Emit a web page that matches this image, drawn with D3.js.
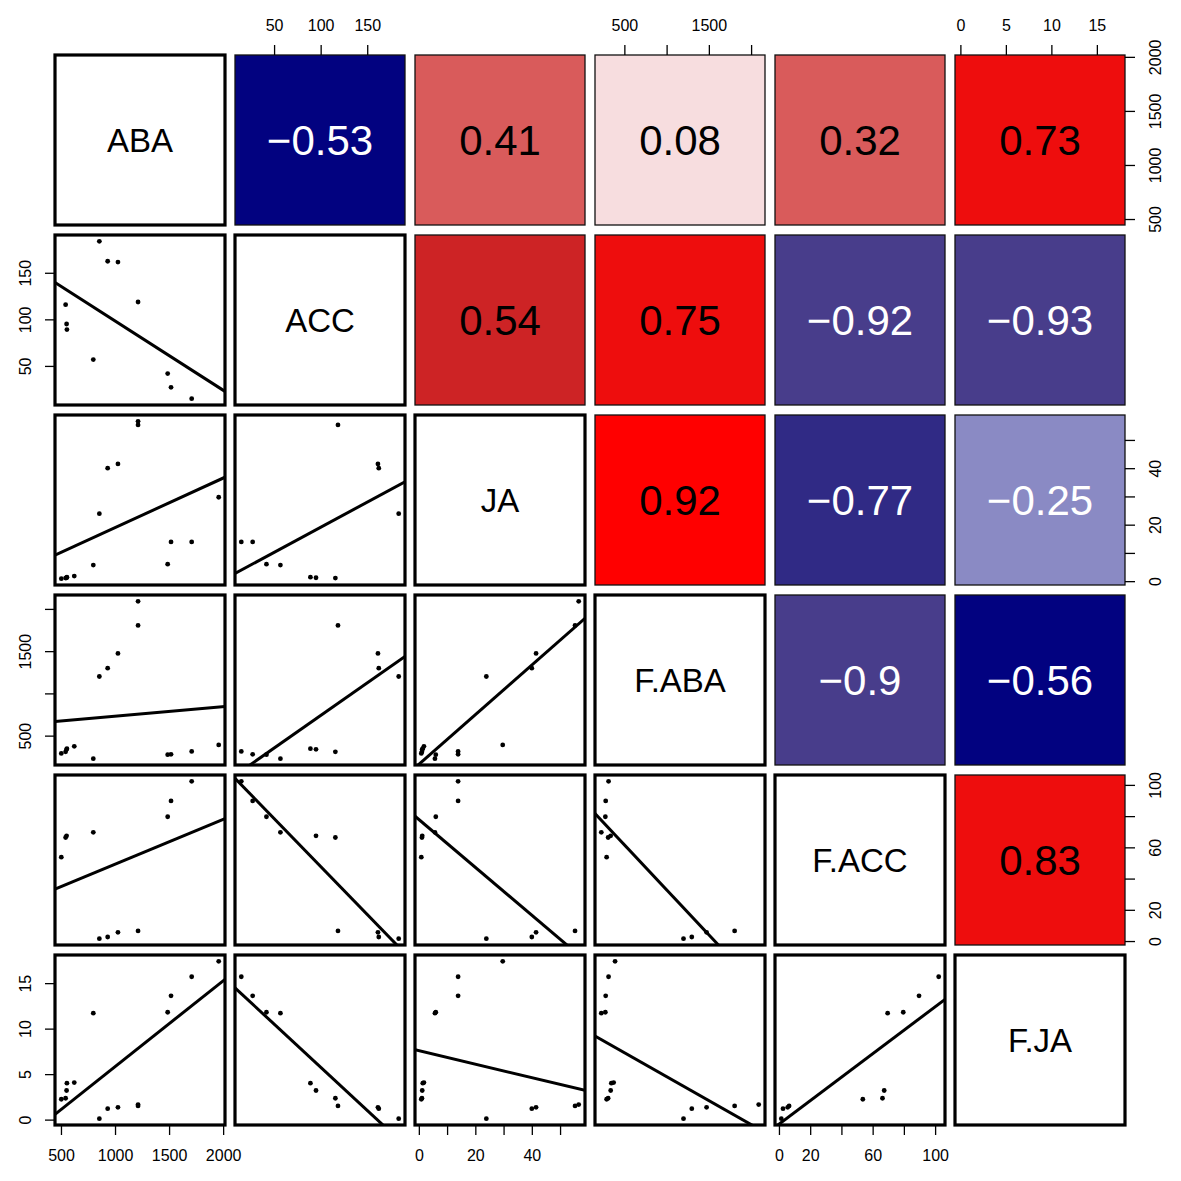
<!DOCTYPE html>
<html><head><meta charset="utf-8">
<script src="https://cdn.jsdelivr.net/npm/d3@7"></script>
<style>
body{margin:0;background:#fff}
svg{display:block}
text{font-family:"Liberation Sans", Arial, Helvetica, sans-serif}
</style>
</head><body>
<svg id="chart" width="1181" height="1181"></svg>
<script>
// ---- data (15 observations, null = missing) ----
const variables = ["ABA", "ACC", "JA", "F.ABA", "F.ACC", "F.JA"];
const ABA   = [503, 543, 552, 555, 623, 799, 855, 932, 1027, 1213, 1213, 1487, 1518, 1709, 1959];
const ACC   = [null, 115.8, 95, 89, null, 56.8, 183.8, 162.4, 161.5, null, 118.6, 41.8, 27, 14.8, null];
const JA    = [0.87, 1.1, 1.2, 1.4, 1.8, 5.7, 23.9, 40, 41.5, 56.6, 55.3, 6.0, 13.9, 13.9, 29.7];
const F_ABA = [290, 308, 338, 346, 373, 227, 1200, 1298, 1473, 2090, 1805, 275, 279, 313, 390];
const F_ACC = [53.7, 66.3, 67.4, null, null, 69.6, 1.5, 2.6, 5.6, null, 6.5, 79.6, 89.7, 102.3, null];
const F_JA  = [2.24, 2.35, 3.2, 4.0, 4.07, 11.7, 0.1, 1.2, 1.35, 1.65, 1.5, 11.8, 13.6, 15.7, 17.4];

// correlation labels of upper panels, row by row
const corrLabels = ["-0.53", "0.41", "0.08", "0.32", "0.73",
                    "0.54", "0.75", "-0.92", "-0.93",
                    "0.92", "-0.77", "-0.25",
                    "-0.9", "-0.56",
                    "0.83"];

// tick values and which of them carry labels
const ticksABA  = [500, 1000, 1500, 2000];
const labelsABA = [500, 1000, 1500, 2000];
const ticksACC  = [50, 100, 150];
const labelsACC = [50, 100, 150];
const ticksJA   = [0, 10, 20, 30, 40, 50];
const labelsJA  = [0, 20, 40];
const ticksFABA = [500, 1000, 1500, 2000];
const labelsFABA = [500, 1500];
const ticksFACC = [0, 20, 40, 60, 80, 100];
const labelsFACC = [0, 20, 60, 100];
const ticksFJA  = [0, 5, 10, 15];
const labelsFJA = [0, 5, 10, 15];

const series = [ABA, ACC, JA, F_ABA, F_ACC, F_JA];
const tickSets = [ticksABA, ticksACC, ticksJA, ticksFABA, ticksFACC, ticksFJA];
const labelSets = [labelsABA, labelsACC, labelsJA, labelsFABA, labelsFACC, labelsFJA];

// ---- layout ----
const origin = 55, size = 170, step = 180, n = variables.length;
const svg = d3.select("#chart");

const color = d3.scaleThreshold()
  .domain([-0.85, -0.65, -0.4, 0, 0.2, 0.5, 0.6, 0.9])
  .range(["#483D8B", "#302A85", "#020280", "#8A8AC4", "#F7DDDF", "#D95B5B", "#CD2325", "#EE0D0D", "#FF0000"]);

// scales: data range extended by 4% (R style)
function domainOf(arr) {
  const e = d3.extent(arr.filter(v => v != null));
  const r = e[1] - e[0];
  return [e[0] - 0.04 * r, e[1] + 0.04 * r];
}
const xScales = series.map(s => d3.scaleLinear().domain(domainOf(s)).range([0, size]));
const yScales = series.map(s => d3.scaleLinear().domain(domainOf(s)).range([size, 0]));

function fmtMinus(s) { return s.replace("-", "\u2212"); }

let k = 0;
const corrMap = {};
for (let i = 0; i < n; i++) for (let j = i + 1; j < n; j++) corrMap[i + "," + j] = corrLabels[k++];

for (let i = 0; i < n; i++) {
  for (let j = 0; j < n; j++) {
    const g = svg.append("g").attr("transform", `translate(${origin + step * j},${origin + step * i})`);
    if (i === j) {
      g.append("rect").attr("width", size).attr("height", size).attr("fill", "#fff");
      g.append("text").attr("x", size / 2).attr("y", size / 2 + 33 * 0.36)
        .attr("text-anchor", "middle").attr("font-size", 33).attr("fill", "#000")
        .text(variables[i]);
      g.append("rect").attr("width", size).attr("height", size)
        .attr("fill", "none").attr("stroke", "#000").attr("stroke-width", 3.2);
    } else if (i < j) {
      const lab = corrMap[i + "," + j];
      const r = +lab;
      g.append("rect").attr("width", size).attr("height", size)
        .attr("fill", color(r)).attr("stroke", "#111").attr("stroke-width", 1.3);
      g.append("text").attr("x", size / 2).attr("y", size / 2 + 42 * 0.36)
        .attr("text-anchor", "middle").attr("font-size", 42)
        .attr("fill", r < 0 ? "#fff" : "#000")
        .text(fmtMinus(lab));
    } else {
      const xs = xScales[j], ys = yScales[i];
      const X = series[j], Y = series[i];
      const pts = X.map((v, idx) => [v, Y[idx]]).filter(p => p[0] != null && p[1] != null);
      const clipId = `clip-${i}-${j}`;
      g.append("clipPath").attr("id", clipId).append("rect").attr("width", size).attr("height", size);
      g.append("rect").attr("width", size).attr("height", size).attr("fill", "#fff");
      const inner = g.append("g").attr("clip-path", `url(#${clipId})`);
      // least-squares fit
      const mx = d3.mean(pts, p => p[0]), my = d3.mean(pts, p => p[1]);
      const sxy = d3.sum(pts, p => (p[0] - mx) * (p[1] - my));
      const sxx = d3.sum(pts, p => (p[0] - mx) * (p[0] - mx));
      const b = sxy / sxx, a = my - b * mx;
      const d = xs.domain();
      inner.append("path")
        .attr("d", d3.line()([[xs(d[0]), ys(a + b * d[0])], [xs(d[1]), ys(a + b * d[1])]]))
        .attr("stroke", "#000").attr("stroke-width", 3).attr("fill", "none");
      inner.selectAll("circle").data(pts).join("circle")
        .attr("cx", p => xs(p[0])).attr("cy", p => ys(p[1])).attr("r", 2.4).attr("fill", "#000");
      g.append("rect").attr("width", size).attr("height", size)
        .attr("fill", "none").attr("stroke", "#000").attr("stroke-width", 3.2);
    }
  }
}

// ---- axes ----
function styleAxis(sel) {
  sel.select(".domain").remove();
  sel.selectAll(".tick line").attr("stroke", "#000").attr("stroke-width", 1.3);
  sel.selectAll(".tick text").attr("font-size", 16).attr("fill", "#000")
    .attr("font-family", '"Liberation Sans", Arial, Helvetica, sans-serif');
}
function fmtFor(idx) {
  return v => labelSets[idx].includes(v) ? String(v) : "";
}

for (let j = 0; j < n; j++) {
  const left = origin + step * j;
  if (j % 2 === 1) {
    const ax = svg.append("g").attr("transform", `translate(${left},${origin})`)
      .call(d3.axisTop(xScales[j]).tickValues(tickSets[j]).tickFormat(fmtFor(j)).tickSize(10).tickSizeOuter(0).tickPadding(14));
    styleAxis(ax);
  } else {
    const ax = svg.append("g").attr("transform", `translate(${left},${origin + step * (n - 1) + size})`)
      .call(d3.axisBottom(xScales[j]).tickValues(tickSets[j]).tickFormat(fmtFor(j)).tickSize(10).tickSizeOuter(0).tickPadding(15));
    styleAxis(ax);
  }
}
for (let i = 0; i < n; i++) {
  const top = origin + step * i;
  if (i % 2 === 1) {
    const ax = svg.append("g").attr("transform", `translate(${origin},${top})`)
      .call(d3.axisLeft(yScales[i]).tickValues(tickSets[i]).tickFormat(fmtFor(i)).tickSize(10).tickSizeOuter(0));
    styleAxis(ax);
    ax.selectAll(".tick text").attr("x", null).attr("dy", null).attr("y", null)
      .attr("text-anchor", "middle").attr("dominant-baseline", "central")
      .attr("transform", "translate(-30,0) rotate(-90)");
  } else {
    const ax = svg.append("g").attr("transform", `translate(${origin + step * (n - 1) + size},${top})`)
      .call(d3.axisRight(yScales[i]).tickValues(tickSets[i]).tickFormat(fmtFor(i)).tickSize(10).tickSizeOuter(0));
    styleAxis(ax);
    ax.selectAll(".tick text").attr("x", null).attr("dy", null).attr("y", null)
      .attr("text-anchor", "middle").attr("dominant-baseline", "central")
      .attr("transform", "translate(30,0) rotate(-90)");
  }
}
</script>
</body></html>
